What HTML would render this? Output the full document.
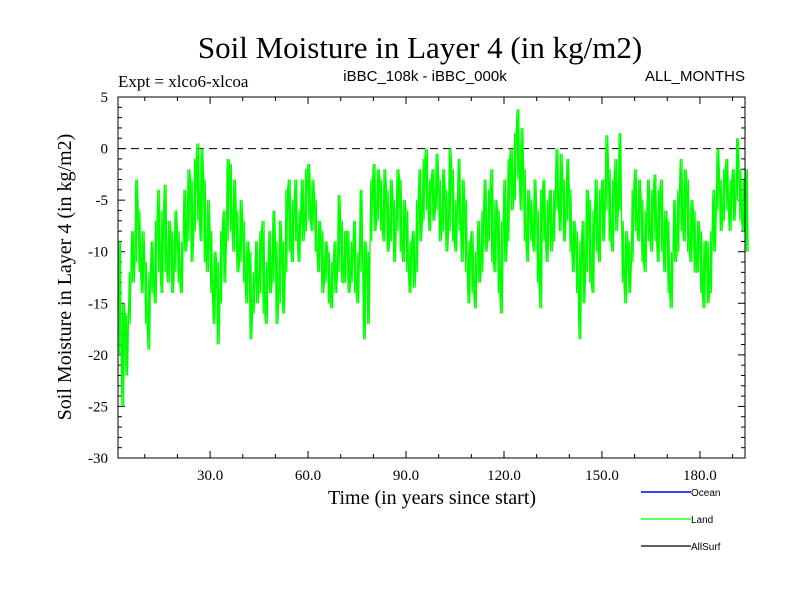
<!DOCTYPE html>
<html><head><meta charset="utf-8"><style>
html,body{margin:0;padding:0;background:#fff;}
svg{display:block;}
</style></head><body>
<svg id="chart" width="800" height="600" viewBox="0 0 800 600" xmlns="http://www.w3.org/2000/svg">
<text x="420" y="58" text-anchor="middle" font-family="Liberation Serif, serif" font-size="31">Soil Moisture in Layer 4 (in kg/m2)</text>
<text x="118" y="87" font-family="Liberation Serif, serif" font-size="17">Expt = xlco6-xlcoa</text>
<text x="425" y="81" text-anchor="middle" font-family="Liberation Sans, sans-serif" font-size="15">iBBC_108k - iBBC_000k</text>
<text x="745" y="81" text-anchor="end" font-family="Liberation Sans, sans-serif" font-size="15">ALL_MONTHS</text>
<text transform="translate(71,277) rotate(-90)" text-anchor="middle" font-family="Liberation Serif, serif" font-size="20">Soil Moisture in Layer 4 (in kg/m2)</text>
<text x="432" y="504" text-anchor="middle" font-family="Liberation Serif, serif" font-size="20">Time (in years since start)</text>
<g id="axes"></g>
<g id="series"></g>
<rect x="118" y="97" width="627" height="361" fill="none" stroke="#000" stroke-width="1"/>
<g font-family="Liberation Sans, sans-serif" font-size="10">
<line x1="641" y1="492" x2="691" y2="492" stroke="#0000ff" stroke-width="1.5"/>
<text x="691" y="496">Ocean</text>
<line x1="641" y1="519" x2="691" y2="519" stroke="#00ff00" stroke-width="1.2"/>
<text x="691" y="523">Land</text>
<line x1="641" y1="546" x2="691" y2="546" stroke="#000" stroke-width="1.2"/>
<text x="691" y="550">AllSurf</text>
</g>
</svg>
<script>
const startYear = 2;
const yearHigh = [-9,-15,-16,-12,-8,-3,-6,-8,-11,-12,
-9,-7,-4,-6,-3.5,-7,-8,-6,-8,-9,
-4,-2,-3,-1,0.5,0,-3,-5,-8,-10,
-11,-8,-6,-1,-1.5,-3,-6,-5,-7,-9,
-10,-12,-9,-8,-7,-11,-8,-6,-9,-7,
-9,-4,-3,-5,-3,-6,-3,-2,-1.5,-3,
-5,-7,-8,-9,-10,-11,-9,-4.5,-7,-8,
-8,-9,-7,-10,-4,-9,-10,-3,-1.5,-2,
-3,-2,-4,-3,-5,-2,-3,-5,-6,-9,
-8,-5,-2,-1,0,-3,-2,-0.5,-3,-2,
-4,0,-2,-5,-1,-3,-5,-9,-8,-10,
-7,-6,-3,-4,-2,-5,-6,-7,-3,-1,
0,1.5,3.8,2,-2,-4,-5,-3,-6,-4,
-3,-5,-4,-4,0,-0.5,-3,-1,-4,-7,
-8,-9,-7,-4,-5,-6,-3,-4,-3,1.3,
-2,-3,-1,1.5,-7,-8,-9,-4,-2,-3,
-5,-6,-3,-4,-2.5,-4,-3,-6,-7,-10,
-5,-4,-1,-2,-3,-5,-6,-7,-8,-9,
-9,-8,-4,0,-3,-2,-1,-3,-2,1,
-2,-3,-2];
const yearLow = [-20,-25,-22,-17,-13,-11,-12,-14,-17,-19.5,
-14,-15,-12,-14,-12,-13,-14,-12,-13,-14,
-10,-9,-11,-8,-7,-9,-11,-12,-14,-17,
-19,-15,-13,-9,-8,-10,-12,-11,-13,-15,
-18.5,-16,-15,-14,-16,-17,-14,-13,-17,-15,
-16,-12,-10,-11,-9,-11,-9,-8,-7,-8,
-10,-12,-14,-13,-15,-15.5,-14,-12,-13,-13,
-14,-13,-14,-15,-12,-18.5,-17,-9,-8,-7,
-8,-9,-10,-9,-11,-8,-10,-11,-12,-14,
-13.5,-12,-9,-7,-6,-8,-7,-6,-9,-8,
-10,-8,-9,-10,-8,-11,-12,-15,-14,-15.5,
-13,-12,-10,-9,-11,-12,-14,-16,-11,-9,
-6,-5,-3,-6,-9,-11,-9,-10,-13,-15.5,
-9,-11,-10,-9,-6,-8,-9,-7,-10,-12,
-14,-18.5,-15,-12,-13,-14,-10,-11,-9,-6,
-9,-10,-8,-6,-13,-15,-14,-11,-8,-9,
-11,-12,-9,-10,-9,-11,-10,-12,-14,-15.5,
-11,-10,-8,-9,-10,-11,-12,-12,-14,-15.5,
-15,-14,-10,-6,-8,-7,-6,-8,-7,-5,
-7,-8,-10];
const xTickValues = [30, 60, 90, 120, 150, 180];
const xTickLabels = ["30.0", "60.0", "90.0", "120.0", "150.0", "180.0"];
const yTickValues = [5, 0, -5, -10, -15, -20, -25, -30];
const yTickLabels = ["5", "0", "-5", "-10", "-15", "-20", "-25", "-30"];

const NS = "http://www.w3.org/2000/svg";
const L = 118, R = 745, T = 97, B = 458;
const xMin = 1.8, xMax = 193.8, yMin = -30, yMax = 5;
function sx(t){ return L + (t - xMin) / (xMax - xMin) * (R - L); }
function sy(v){ return B - (v - yMin) / (yMax - yMin) * (B - T); }
function mk(tag, attrs, parent){ const e = document.createElementNS(NS, tag); for (const k in attrs) e.setAttribute(k, attrs[k]); parent.appendChild(e); return e; }

const axes = document.getElementById('axes');
for (let t = 10; t < xMax; t += 10) {
  const len = (t % 30 === 0) ? 7 : 4;
  const a = mk('line', {x1: sx(t), x2: sx(t), y1: B, y2: B - len, stroke: '#000'}, axes);
  
  
  const b = mk('line', {x1: sx(t), x2: sx(t), y1: T, y2: T + len, stroke: '#000'}, axes);
  
  
}
xTickValues.forEach((v, i) => {
  const tx = mk('text', {x: sx(v), y: B + 22, 'text-anchor': 'middle', 'font-family': 'Liberation Serif, serif', 'font-size': '15'}, axes);
  tx.textContent = xTickLabels[i];
  
  
});
for (let v = yMin; v <= yMax; v += 1) {
  const len = (v % 5 === 0) ? 7 : 4;
  const a = mk('line', {x1: L, x2: L + len, y1: sy(v), y2: sy(v), stroke: '#000'}, axes);
  
  
  const b = mk('line', {x1: R, x2: R - len, y1: sy(v), y2: sy(v), stroke: '#000'}, axes);
  
  
}
yTickValues.forEach((v, i) => {
  const tx = mk('text', {x: 108, y: sy(v) + 5, 'text-anchor': 'end', 'font-family': 'Liberation Serif, serif', 'font-size': '15'}, axes);
  tx.textContent = yTickLabels[i];
  
  
});
const zl = mk('line', {x1: L, x2: R, y1: sy(0), y2: sy(0), stroke: '#000', 'stroke-dasharray': '8,5', 'stroke-width': '1'}, axes);



const series = document.getElementById('series');
let pts = [];
for (let i = 0; i < yearHigh.length; i++) {
  const t = startYear + i;
  const hi = yearHigh[i], lo = yearLow[i];
  const seq = i % 2 === 0 ? [hi, lo, hi, lo] : [lo, hi, lo, hi];
  for (let k = 0; k < 4; k++) {
    pts.push(sx(t + k * 0.25).toFixed(1) + ',' + sy(seq[k]).toFixed(1));
  }
}
const land = mk('polyline', {points: pts.join(' '), fill: 'none', stroke: '#00ff00', 'stroke-width': '1.3', 'stroke-linejoin': 'miter'}, series);


</script>
</body></html>
